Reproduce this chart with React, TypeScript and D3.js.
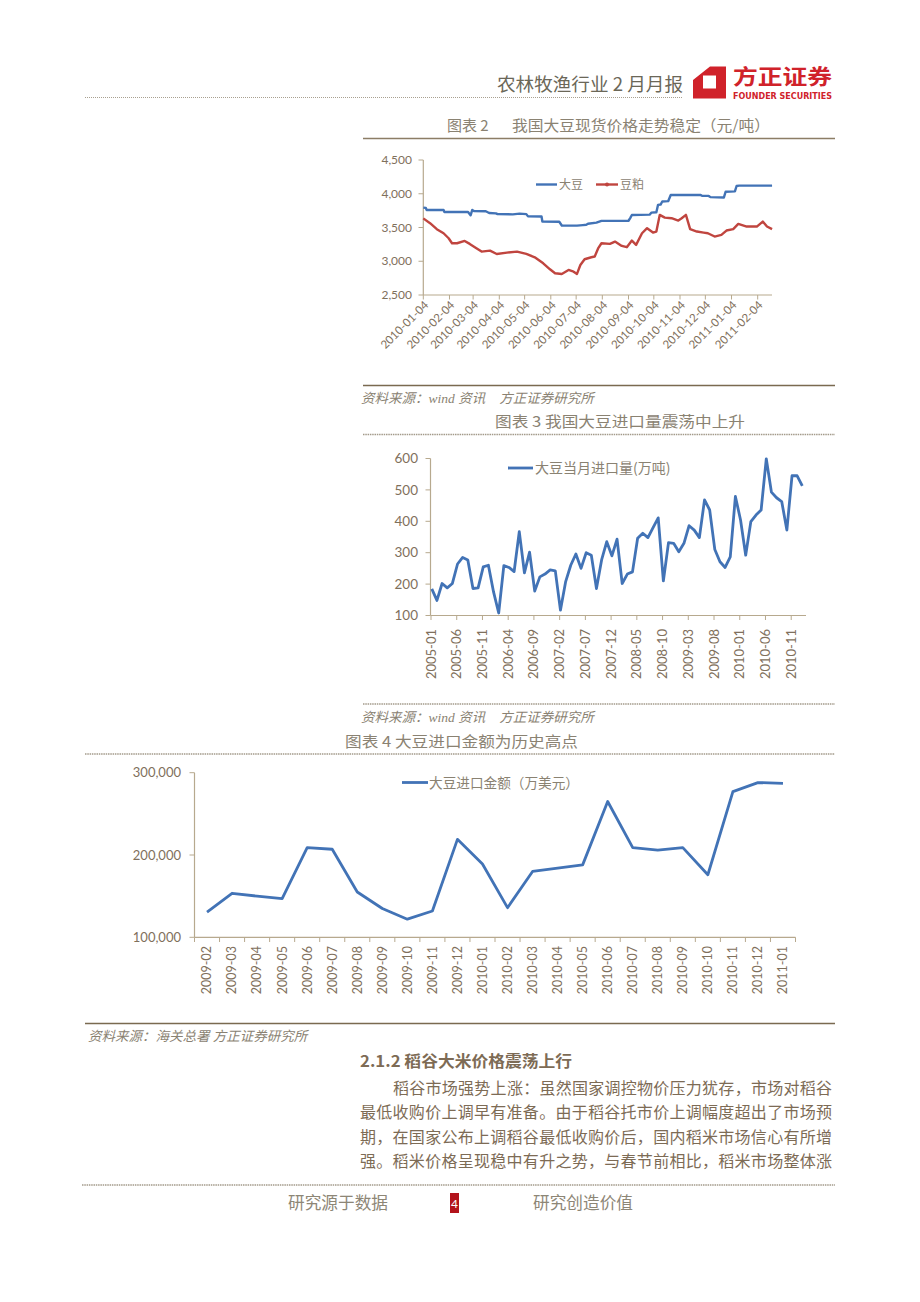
import React from 'react';
import * as d3 from 'd3';

// ---- chart 2: 大豆 / 豆粕 spot prices (元/吨) ----
const priceTicks = [2500, 3000, 3500, 4000, 4500];
const priceDateLabels = [
  '2010-01-04', '2010-02-04', '2010-03-04', '2010-04-04', '2010-05-04', '2010-06-04', '2010-07-04',
  '2010-08-04', '2010-09-04', '2010-10-04', '2010-11-04', '2010-12-04', '2011-01-04', '2011-02-04',
];
const soybeanSpot: [string, number][] = [
  ['2010-01-04', 3795], ['2010-01-07', 3790], ['2010-01-08', 3760], ['2010-01-28', 3760],
  ['2010-01-29', 3730], ['2010-02-26', 3730], ['2010-03-01', 3680], ['2010-03-03', 3760],
  ['2010-03-05', 3745], ['2010-03-19', 3740], ['2010-03-23', 3715], ['2010-03-31', 3710],
  ['2010-04-02', 3698], ['2010-04-20', 3695], ['2010-04-28', 3705], ['2010-05-06', 3698],
  ['2010-05-08', 3665], ['2010-05-24', 3662], ['2010-05-25', 3588], ['2010-06-14', 3585],
  ['2010-06-17', 3530], ['2010-07-05', 3528], ['2010-07-12', 3535], ['2010-07-16', 3540],
  ['2010-07-18', 3555], ['2010-07-28', 3572], ['2010-08-03', 3598], ['2010-09-04', 3600],
  ['2010-09-06', 3640], ['2010-09-08', 3685], ['2010-09-29', 3690], ['2010-10-01', 3720],
  ['2010-10-07', 3725], ['2010-10-09', 3836], ['2010-10-12', 3840], ['2010-10-14', 3885],
  ['2010-10-21', 3890], ['2010-10-24', 3982], ['2010-11-28', 3984], ['2010-11-30', 3970],
  ['2010-12-08', 3968], ['2010-12-10', 3950], ['2010-12-26', 3945], ['2010-12-28', 4030],
  ['2011-01-08', 4035], ['2011-01-10', 4115], ['2011-01-13', 4120], ['2011-02-21', 4120],
];
const soymealSpot: [string, number][] = [
  ['2010-01-04', 3635], ['2010-01-12', 3564], ['2010-01-20', 3475], ['2010-01-28', 3415],
  ['2010-02-03', 3341], ['2010-02-07', 3267], ['2010-02-13', 3267], ['2010-02-22', 3301],
  ['2010-02-28', 3257], ['2010-03-06', 3208], ['2010-03-14', 3143], ['2010-03-24', 3158],
  ['2010-04-01', 3108], ['2010-04-13', 3128], ['2010-04-25', 3143], ['2010-05-06', 3108],
  ['2010-05-16', 3059], ['2010-05-26', 2970], ['2010-06-03', 2881], ['2010-06-09', 2822],
  ['2010-06-17', 2812], ['2010-06-25', 2871], ['2010-07-01', 2846], ['2010-07-05', 2812],
  ['2010-07-09', 2945], ['2010-07-14', 3030], ['2010-07-22', 3059], ['2010-07-26', 3070],
  ['2010-07-30', 3190], ['2010-08-03', 3267], ['2010-08-13', 3257], ['2010-08-19', 3291],
  ['2010-08-27', 3227], ['2010-09-02', 3208], ['2010-09-08', 3306], ['2010-09-13', 3242],
  ['2010-09-20', 3415], ['2010-09-26', 3490], ['2010-10-03', 3425], ['2010-10-07', 3440],
  ['2010-10-11', 3687], ['2010-10-17', 3647], ['2010-10-25', 3638], ['2010-11-02', 3603],
  ['2010-11-06', 3638], ['2010-11-11', 3687], ['2010-11-16', 3475], ['2010-11-24', 3440],
  ['2010-12-02', 3425], ['2010-12-07', 3415], ['2010-12-15', 3366], ['2010-12-23', 3390],
  ['2010-12-29', 3455], ['2011-01-06', 3475], ['2011-01-12', 3554], ['2011-01-22', 3514],
  ['2011-02-03', 3514], ['2011-02-10', 3588], ['2011-02-15', 3514], ['2011-02-21', 3475],
];

// ---- chart 3: monthly soybean imports (万吨), 2005-01 .. 2011-01 ----
const volumeStart = '2005-01';
const importVolume = [
  185, 148, 202, 188, 202, 264, 285, 277, 186, 188, 255, 260,
  175, 108, 259, 253, 240, 367, 236, 302, 178, 223, 232, 245,
  242, 117, 207, 260, 296, 250, 300, 292, 186, 277, 335, 290,
  343, 202, 232, 239, 346, 362, 348, 380, 411, 210, 332, 330,
  303, 330, 386, 372, 348, 468, 436, 310, 271, 253, 287, 479,
  404, 292, 399, 420, 436, 599, 493, 475, 463, 372, 545, 545,
  513,
];
const volumeTicks = [100, 200, 300, 400, 500, 600];
const volumeDateLabels = [
  '2005-01', '2005-06', '2005-11', '2006-04', '2006-09', '2007-02', '2007-07', '2007-12',
  '2008-05', '2008-10', '2009-03', '2009-08', '2010-01', '2010-06', '2010-11',
];

// ---- chart 4: monthly import value (万美元) ----
const valueMonths = [
  '2009-02', '2009-03', '2009-04', '2009-05', '2009-06', '2009-07', '2009-08', '2009-09',
  '2009-10', '2009-11', '2009-12', '2010-01', '2010-02', '2010-03', '2010-04', '2010-05',
  '2010-06', '2010-07', '2010-08', '2010-09', '2010-10', '2010-11', '2010-12', '2011-01',
];
const importValue = [
  130500, 153500, 150000, 147000, 209000, 207000, 155000, 135000,
  122000, 132000, 219000, 189000, 136000, 180000, 184000, 188000,
  265000, 209000, 206000, 209000, 176000, 277000, 288000, 287000,
];
const valueTicks = [100000, 200000, 300000];

const paragraphLines = [
  '稻谷市场强势上涨：虽然国家调控物价压力犹存，市场对稻谷',
  '最低收购价上调早有准备。由于稻谷托市价上调幅度超出了市场预',
  '期，在国家公布上调稻谷最低收购价后，国内稻米市场信心有所增',
  '强。稻米价格呈现稳中有升之势，与春节前相比，稻米市场整体涨',
];

const CJK = '"Noto Sans CJK SC", "Noto Sans CJK JP", sans-serif';
const NUM = 'Lato, "Noto Sans", sans-serif';
const SERIF_IT = '"Liberation Serif", "Noto Sans CJK SC", serif';
const AXIS = '#b7a98e';
const LABEL = '#7f705c';
const TITLE = '#8a8272';
const BLUE = '#4273b6';
const RED = '#c0453f';

const parseDay = d3.timeParse('%Y-%m-%d');
const parseMonth = d3.timeParse('%Y-%m');

function PriceChart() {
  const x = d3.scaleTime()
    .domain([parseDay('2010-01-04')!, parseDay('2011-02-04')!])
    .range([423.3, 757.7]);
  const y = d3.scaleLinear().domain([2500, 4500]).range([295, 160]);
  const line = d3.line<[string, number]>()
    .x(d => x(parseDay(d[0])!))
    .y(d => y(d[1]));
  return (
    <g>
      <text x={447} y={131} fontFamily={CJK} fontSize={15} fill={TITLE}>图表 2</text>
      <text x={512} y={131} fontFamily={CJK} fontSize={15} fill={TITLE} textLength={258} lengthAdjust="spacingAndGlyphs">我国大豆现货价格走势稳定（元/吨）</text>
      <line x1={363} x2={835} y1={138.5} y2={138.5} stroke="#8c7d66" strokeWidth={1.3} />

      <line x1={423.3} x2={423.3} y1={160} y2={295} stroke={AXIS} strokeWidth={1.2} />
      <line x1={423.3} x2={772} y1={295} y2={295} stroke={AXIS} strokeWidth={1.2} />
      {priceTicks.map(t => (
        <g key={t}>
          <line x1={418.5} x2={423.3} y1={y(t)} y2={y(t)} stroke={AXIS} />
          <text x={412} y={y(t)} dy="0.35em" textAnchor="end" fontFamily={NUM} fontSize={12} fill={LABEL}>
            {d3.format(',')(t)}
          </text>
        </g>
      ))}
      {priceDateLabels.map(l => {
        const px = x(parseDay(l)!);
        return (
          <g key={l}>
            <line x1={px} x2={px} y1={295} y2={299.5} stroke={AXIS} />
            <text transform={`translate(${px + 3},${303}) rotate(-45)`} textAnchor="end" dy="0.35em"
              fontFamily={NUM} fontSize={11.5} fill={LABEL}>{l}</text>
          </g>
        );
      })}

      <path d={line(soybeanSpot)!} fill="none" stroke={BLUE} strokeWidth={2.4} strokeLinejoin="round" />
      <path d={line(soymealSpot)!} fill="none" stroke={RED} strokeWidth={2.4} strokeLinejoin="round" />

      <line x1={536} x2={557} y1={184.5} y2={184.5} stroke={BLUE} strokeWidth={2.4} />
      <text x={559} y={184.5} dy="0.36em" fontFamily={CJK} fontSize={12} fill={TITLE}>大豆</text>
      <line x1={596} x2={618} y1={184.5} y2={184.5} stroke={RED} strokeWidth={2.4} />
      <circle cx={607} cy={184.5} r={2} fill={RED} />
      <text x={620} y={184.5} dy="0.36em" fontFamily={CJK} fontSize={12} fill={TITLE}>豆粕</text>

      <line x1={363} x2={835} y1={385.5} y2={385.5} stroke="#7a6a50" strokeWidth={1.3} />
      <text x={361} y={403} fontFamily={SERIF_IT} fontStyle="italic" fontSize={13.5} fill={TITLE}>
        资料来源：wind 资讯<tspan dx={14}>方正证券研究所</tspan>
      </text>
    </g>
  );
}

function VolumeChart() {
  const start = parseMonth(volumeStart)!;
  const monthIndex = (s: string) => d3.timeMonth.count(start, parseMonth(s)!);
  const x = d3.scaleLinear().domain([0, 72]).range([431.8, 802.3]);
  const y = d3.scaleLinear().domain([100, 600]).range([615.5, 458.5]);
  const line = d3.line<number>().x((_, i) => x(i)).y(d => y(d));
  return (
    <g>
      <text x={495} y={427} fontFamily={CJK} fontSize={15} fill={TITLE} textLength={250} lengthAdjust="spacingAndGlyphs">图表 3 我国大豆进口量震荡中上升</text>
      <line x1={363} x2={835} y1={434.5} y2={434.5} stroke="#a39a8a" strokeWidth={1.5} strokeDasharray="1.5 0.8" />

      <line x1={430.5} x2={430.5} y1={458.5} y2={615.5} stroke={AXIS} strokeWidth={1.2} />
      <line x1={430.5} x2={806} y1={615.5} y2={615.5} stroke={AXIS} strokeWidth={1.2} />
      {volumeTicks.map(t => (
        <g key={t}>
          <line x1={425.5} x2={430.5} y1={y(t)} y2={y(t)} stroke={AXIS} />
          <text x={418} y={y(t)} dy="0.35em" textAnchor="end" fontFamily={NUM} fontSize={13.5} fill={LABEL}>{t}</text>
        </g>
      ))}
      {volumeDateLabels.map(l => {
        const px = x(monthIndex(l)) - 0.8;
        return (
          <g key={l}>
            <line x1={px} x2={px} y1={615.5} y2={620} stroke={AXIS} />
            <text transform={`translate(${px},${629}) rotate(-90)`} textAnchor="end" dy="0.35em"
              fontFamily={NUM} fontSize={13} fill={LABEL}>{l}</text>
          </g>
        );
      })}

      <path d={line(importVolume)!} fill="none" stroke={BLUE} strokeWidth={2.8} strokeLinejoin="round" />

      <line x1={508} x2={533} y1={468} y2={468} stroke={BLUE} strokeWidth={2.8} />
      <text x={535} y={468} dy="0.36em" fontFamily={CJK} fontSize={14} fill={TITLE}>大豆当月进口量(万吨)</text>

      <line x1={363} x2={835} y1={704} y2={704} stroke="#a39a8a" strokeWidth={1.5} strokeDasharray="1.5 0.8" />
      <text x={361} y={722} fontFamily={SERIF_IT} fontStyle="italic" fontSize={13.5} fill={TITLE}>
        资料来源：wind 资讯<tspan dx={14}>方正证券研究所</tspan>
      </text>
    </g>
  );
}

function ValueChart() {
  const x = d3.scaleBand().domain(valueMonths).range([194.5, 795.5]);
  const y = d3.scaleLinear().domain([100000, 300000]).range([937.3, 772.7]);
  const line = d3.line<number>()
    .x((_, i) => x(valueMonths[i])! + x.bandwidth() / 2)
    .y(d => y(d));
  const bounds = [...valueMonths.map(m => x(m)!), 795.5];
  return (
    <g>
      <text x={345} y={747} fontFamily={CJK} fontSize={15} fill={TITLE} textLength={233} lengthAdjust="spacingAndGlyphs">图表 4 大豆进口金额为历史高点</text>
      <line x1={85} x2={835} y1={754} y2={754} stroke="#a39a8a" strokeWidth={1.6} strokeDasharray="1.5 0.8" />

      <line x1={194.5} x2={194.5} y1={772.7} y2={937.3} stroke={AXIS} strokeWidth={1.2} />
      <line x1={194.5} x2={795.5} y1={937.3} y2={937.3} stroke={AXIS} strokeWidth={1.2} />
      {valueTicks.map(t => (
        <g key={t}>
          <line x1={189.5} x2={194.5} y1={y(t)} y2={y(t)} stroke={AXIS} />
          <text x={181} y={y(t)} dy="0.35em" textAnchor="end" fontFamily={NUM} fontSize={13} fill={LABEL}>
            {d3.format(',')(t)}
          </text>
        </g>
      ))}
      {bounds.map((b, i) => (
        <line key={i} x1={b} x2={b} y1={937.3} y2={942} stroke={AXIS} />
      ))}
      {valueMonths.map(m => (
        <text key={m} transform={`translate(${x(m)! + x.bandwidth() / 2},${946}) rotate(-90)`}
          textAnchor="end" dy="0.35em" fontFamily={NUM} fontSize={12.5} fill={LABEL}>{m}</text>
      ))}

      <path d={line(importValue)!} fill="none" stroke={BLUE} strokeWidth={2.8} strokeLinejoin="round" />

      <line x1={402} x2={428} y1={782.5} y2={782.5} stroke={BLUE} strokeWidth={2.8} />
      <text x={429} y={782.5} dy="0.36em" fontFamily={CJK} fontSize={14} fill={TITLE}
        textLength={150} lengthAdjust="spacingAndGlyphs">大豆进口金额（万美元）</text>

      <line x1={85} x2={835} y1={1023.5} y2={1023.5} stroke="#7a6a50" strokeWidth={1.3} />
      <text x={88} y={1041} fontFamily={SERIF_IT} fontStyle="italic" fontSize={13.5} fill={TITLE}>
        资料来源：海关总署 方正证券研究所
      </text>
    </g>
  );
}

function Header() {
  return (
    <g>
      <text x={683} y={91} textAnchor="end" fontFamily={CJK} fontSize={18} fill="#6b6758"
        textLength={186} lengthAdjust="spacingAndGlyphs">农林牧渔行业 2 月月报</text>
      <line x1={85} x2={683} y1={97.5} y2={97.5} stroke="#a8a090" strokeWidth={1} strokeDasharray="1 1" />
      <path d="M710,66.5 L726,66.5 L726,98.5 L693,98.5 L693,80 Z M703,75.5 L703,88.5 L716,88.5 L716,75.5 Z"
        fill="#d0222a" fillRule="evenodd" />
      <text x={733} y={84} fontFamily={CJK} fontWeight="bold" fontSize={21} fill="#d0222a"
        textLength={99} lengthAdjust="spacingAndGlyphs">方正证券</text>
      <text x={733} y={98.5} fontFamily={'"DejaVu Sans", sans-serif'} fontWeight="bold" fontSize={8} fill="#d0222a"
        textLength={99} lengthAdjust="spacingAndGlyphs">FOUNDER SECURITIES</text>
    </g>
  );
}

function Body() {
  return (
    <g fontFamily={CJK} fill="#7d6b55">
      <text x={360} y={1067} fontSize={15.5} fontWeight="bold" textLength={212} lengthAdjust="spacingAndGlyphs">
        2.1.2 稻谷大米价格震荡上行
      </text>
      {paragraphLines.map((l, i) => (
        <text key={i} x={i === 0 ? 393 : 360} y={1094 + i * 24.3} fontSize={16}
          textLength={i === 0 ? 439 : 472} lengthAdjust="spacing">{l}</text>
      ))}
    </g>
  );
}

function Footer() {
  return (
    <g>
      <line x1={82} x2={835} y1={1185} y2={1185} stroke="#a39a8a" strokeWidth={1.6} strokeDasharray="1.5 0.8" />
      <text x={288} y={1209} fontFamily={CJK} fontSize={16.5} fill="#8d8676" textLength={100} lengthAdjust="spacingAndGlyphs">研究源于数据</text>
      <rect x={450} y={1193} width={9} height={20} fill="#b3141c" />
      <text x={454.5} y={1208} textAnchor="middle" fontFamily={NUM} fontSize={12} fill="#ffffff">4</text>
      <text x={533} y={1209} fontFamily={CJK} fontSize={16.5} fill="#8d8676" textLength={100} lengthAdjust="spacingAndGlyphs">研究创造价值</text>
    </g>
  );
}

export default function App() {
  return (
    <div style={{ position: 'absolute', left: 0, top: 0, width: 920, height: 1302, background: '#ffffff' }}>
      <svg width={920} height={1302} viewBox="0 0 920 1302" style={{ display: 'block' }}>
        <rect width={920} height={1302} fill="#ffffff" />
        <Header />
        <PriceChart />
        <VolumeChart />
        <ValueChart />
        <Body />
        <Footer />
      </svg>
    </div>
  );
}
